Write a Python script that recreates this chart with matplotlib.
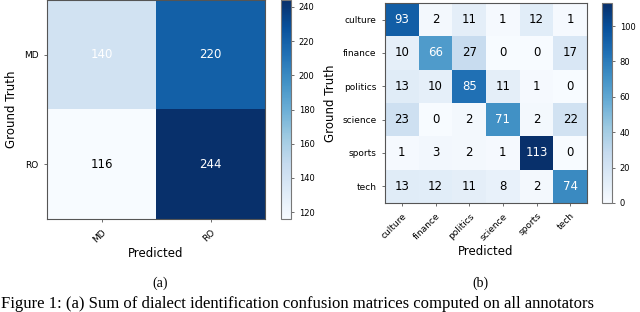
import matplotlib
matplotlib.use("Agg")
import matplotlib.pyplot as plt
import numpy as np

# dialect confusion matrix (a)
dialects = ["MD", "RO"]
dialect_cm = np.array([[140, 220],
                       [116, 244]])

# topic confusion matrix (b)
topics = ["culture", "finance", "politics", "science", "sports", "tech"]
topic_cm = np.array([[93, 2, 11, 1, 12, 1],
                     [10, 66, 27, 0, 0, 17],
                     [13, 10, 85, 11, 1, 0],
                     [23, 0, 2, 71, 2, 22],
                     [1, 3, 2, 1, 113, 0],
                     [13, 12, 11, 8, 2, 74]])

W, H = 640, 312
fig = plt.figure(figsize=(W / 100, H / 100), dpi=100)


def px(left, top, right, bottom):
    return [left / W, 1 - bottom / H, (right - left) / W, (bottom - top) / H]


def draw_cm(ax, cax, cm, labels, ticks):
    im = ax.imshow(cm, cmap="Blues", aspect="auto", interpolation="nearest")
    cb = fig.colorbar(im, cax=cax, ticks=ticks)
    cb.ax.tick_params(labelsize=6, length=2, width=0.6, color="#555555")
    cb.outline.set_edgecolor("#777777")
    cb.outline.set_linewidth(0.8)
    ax.set_xticks(range(len(labels)))
    ax.set_yticks(range(len(labels)))
    ax.set_xticklabels(labels, rotation=45, ha="right", rotation_mode="anchor")
    ax.set_yticklabels(labels)
    ax.tick_params(labelsize=6.5, length=2.5, width=0.6, color="#555555")
    for s in ax.spines.values():
        s.set_edgecolor("#555555")
        s.set_linewidth(0.8)
    thresh = cm.max() / 2.0
    for i in range(cm.shape[0]):
        for j in range(cm.shape[1]):
            ax.text(j, i, str(cm[i, j]), ha="center", va="center",
                    fontsize=8.5,
                    color="white" if cm[i, j] > thresh else "black")
    ax.set_xlabel("Predicted", fontsize=8.5, labelpad=2)
    ax.set_ylabel("Ground Truth", fontsize=8.5, labelpad=4)


ax1 = fig.add_axes(px(47, 0, 265, 219))
cax1 = fig.add_axes(px(281, 0, 291, 219))
draw_cm(ax1, cax1, dialect_cm, dialects, [120, 140, 160, 180, 200, 220, 240])

ax2 = fig.add_axes(px(385, 3, 587, 203))
cax2 = fig.add_axes(px(602, 3, 612, 203))
draw_cm(ax2, cax2, topic_cm, topics, [0, 20, 40, 60, 80, 100])

serif = ["Liberation Serif", "DejaVu Serif"]
fig.text(160 / W, 1 - 283 / H, "(a)", ha="center", va="center",
         fontsize=10, family=serif)
fig.text(480 / W, 1 - 283 / H, "(b)", ha="center", va="center",
         fontsize=10, family=serif)
fig.text(1 / W, 1 - 308 / H,
         "Figure 1: (a) Sum of dialect identification confusion matrices computed on all annotators",
         ha="left", va="baseline", fontsize=12, family=serif)

fig.savefig("out.png", dpi=100)
